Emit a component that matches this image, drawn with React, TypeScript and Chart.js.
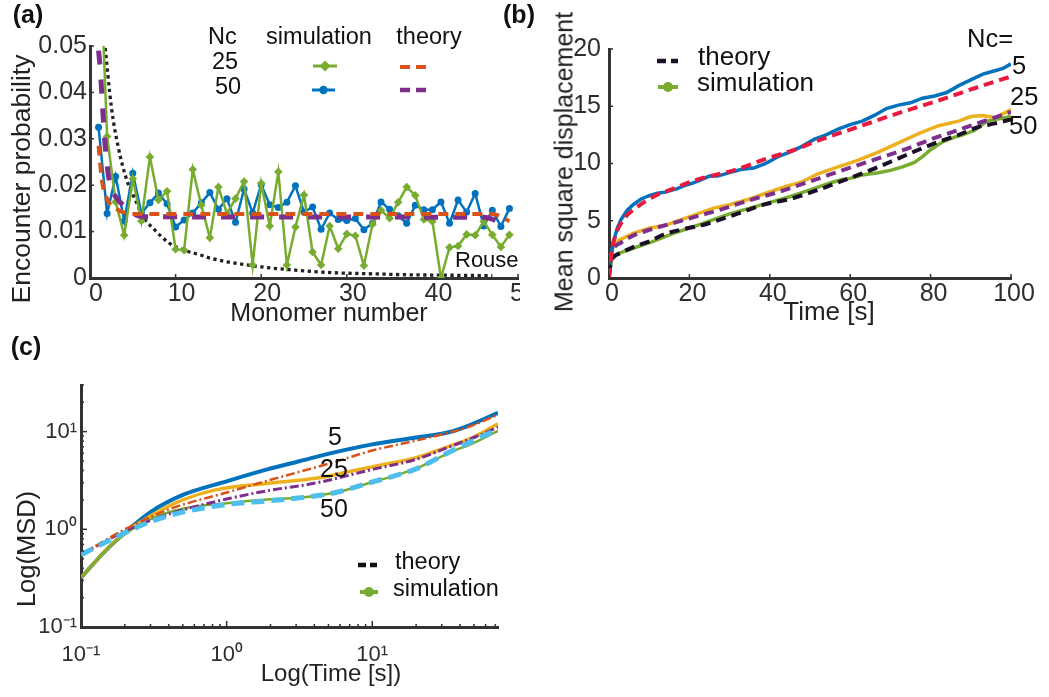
import React, { useEffect, useRef } from 'react';
import { Chart, registerables } from 'chart.js';
Chart.register(...registerables);

const FONT = "'Liberation Sans', Arial, Helvetica, sans-serif";
const AXIS = '#333333';
const TICK = '#2e2e2e';
const GREEN = '#77AC30';
const BLUE = '#0072BD';
const ORANGE = '#D95319';
const PURPLE = '#7E2F8E';
const YELLOW = '#EDB120';
const CYAN = '#4DBEEE';
const RED = '#E8193C';
const DARK = '#1c1028';

// ---------- Panel (a): encounter probability ----------
const monomerNumber = [1, 2, 3, 4, 5, 6, 7, 8, 9, 10, 11, 12, 13, 14, 15, 16, 17, 18, 19, 20, 21, 22, 23, 24, 25, 26, 27, 28, 29, 30, 31, 32, 33, 34, 35, 36, 37, 38, 39, 40, 41, 42, 43, 44, 45, 46, 47, 48, 49];
const simNc25 = [0.078, 0.0305, 0.0164, 0.0092, 0.0214, 0.0123, 0.0261, 0.0168, 0.0187, 0.0062, 0.006, 0.0234, 0.0157, 0.0087, 0.0196, 0.0139, 0.0171, 0.0208, 0.0028, 0.0204, 0.0112, 0.0229, 0.0028, 0.011, 0.0179, 0.0056, 0.0028, 0.0112, 0.0063, 0.0095, 0.0091, 0.0027, 0.0116, 0.0146, 0.0129, 0.0163, 0.0196, 0.0178, 0.0126, 0.0122, 0.0, 0.0066, 0.0069, 0.0094, 0.0092, 0.0122, 0.0093, 0.0067, 0.0093];
const simNc50 = [0.0325, 0.0139, 0.0219, 0.0123, 0.0226, 0.014, 0.0162, 0.0183, 0.016, 0.011, 0.0125, 0.014, 0.0162, 0.0184, 0.0148, 0.0171, 0.012, 0.0192, 0.014, 0.0201, 0.0158, 0.0152, 0.0163, 0.0199, 0.0142, 0.0153, 0.0105, 0.014, 0.0126, 0.0124, 0.0128, 0.0104, 0.0118, 0.0164, 0.0148, 0.0134, 0.0118, 0.0157, 0.0147, 0.0147, 0.0164, 0.0118, 0.0168, 0.0142, 0.0182, 0.0112, 0.0146, 0.0111, 0.015];
const theoryNc25X = [1, 1.4, 2, 3, 4, 5, 47, 48, 49];
const theoryNc25Y = [0.0285, 0.021, 0.017, 0.015, 0.0141, 0.0138, 0.0138, 0.0133, 0.0122];
const theoryNc50X = [1, 1.2, 1.4, 1.75, 2.3, 3, 4, 5, 6, 46, 47, 48];
const theoryNc50Y = [0.049, 0.045, 0.039, 0.029, 0.0205, 0.0175, 0.0155, 0.014, 0.0132, 0.0131, 0.0127, 0.0118];
const rouseX = [1.7, 2.5, 3.3, 4.3, 5.3, 6.2, 7.6, 9.2, 11, 13, 14, 16, 18, 20, 22, 24, 26, 29, 33, 37, 42, 47];
const rouseY = [0.051, 0.0368, 0.0282, 0.0211, 0.0168, 0.0132, 0.0103, 0.0076, 0.006, 0.0049, 0.0043, 0.0035, 0.0029, 0.0024, 0.002, 0.0017, 0.0014, 0.0011, 0.0009, 0.0007, 0.0006, 0.0005];
const probTicks = [0, 0.01, 0.02, 0.03, 0.04, 0.05];

// ---------- Panel (b): MSD linear ----------
const simNc5T = [0, 0.3, 1, 2, 3, 4.5, 6, 8, 10, 12, 14, 17, 19, 21, 23, 25, 27, 30, 33, 36, 39, 42, 45, 48, 51, 54, 57, 60, 63, 66, 69, 72, 75, 78, 81, 84, 87, 90, 93, 96, 98, 100];
const simNc5V = [0, 1.3, 3.0, 4.3, 5.1, 5.9, 6.4, 6.9, 7.2, 7.4, 7.5, 7.8, 8.1, 8.3, 8.6, 8.9, 8.9, 9.2, 9.5, 9.6, 10.0, 10.6, 11.0, 11.5, 12.1, 12.5, 13.0, 13.4, 13.7, 14.2, 14.8, 15.1, 15.3, 15.7, 15.9, 16.2, 16.8, 17.3, 17.8, 18.1, 18.3, 18.7];
const thNc5T = [0, 0.5, 1.5, 3.6, 7, 11, 16, 22, 31, 39, 47, 52, 62, 72, 82, 92, 100];
const thNc5V = [0, 2.0, 3.6, 5.1, 6.2, 7.1, 7.8, 8.6, 9.4, 10.4, 11.3, 12.0, 13.2, 14.4, 15.5, 16.7, 17.6];
const simNc25T = [0, 0.3, 1, 2.5, 6, 10, 14, 18, 22, 26, 30, 35, 39, 44, 48, 52, 57, 62, 67, 72, 77, 82, 87, 90, 93, 96, 100];
const simNc25V = [0, 1.6, 2.7, 3.3, 3.9, 4.35, 4.6, 5.1, 5.6, 6.1, 6.4, 6.9, 7.4, 8.0, 8.4, 9.1, 9.7, 10.3, 11.0, 11.8, 12.6, 13.3, 13.7, 14.1, 14.2, 14.0, 14.7];
const thNc25T = [0, 0.5, 1, 3, 6, 10, 17, 22, 28, 35, 42, 48, 53, 58, 64, 70, 75, 80, 85, 90, 95, 100];
const thNc25V = [0, 2.0, 2.5, 3.1, 3.7, 4.2, 4.9, 5.4, 6.0, 6.8, 7.5, 8.2, 8.8, 9.4, 10.1, 10.8, 11.4, 12.1, 12.7, 13.3, 13.9, 14.5];
const simNc50T = [0, 0.7, 2, 6, 11, 16, 22, 30, 39, 45, 50, 55, 58, 60, 63, 67, 70, 73, 76, 78, 80, 83, 86, 88, 91, 94, 97, 100];
const simNc50V = [0.3, 1.6, 2.1, 2.6, 3.2, 3.9, 4.6, 5.6, 6.5, 7.1, 7.7, 8.3, 8.6, 8.7, 9.0, 9.2, 9.4, 9.7, 10.1, 10.6, 11.2, 11.9, 12.3, 12.5, 12.9, 13.7, 13.9, 14.1];
const thNc50T = [0, 0.5, 1, 3, 6, 10, 14, 19, 23, 31, 39, 45, 52, 57, 62, 67, 72, 77, 82, 87, 92, 96, 100];
const thNc50V = [0.3, 1.5, 1.8, 2.2, 2.7, 3.2, 3.85, 4.3, 4.6, 5.5, 6.45, 6.9, 7.7, 8.35, 9.0, 9.7, 10.45, 11.2, 11.9, 12.5, 13.2, 13.5, 13.85];

// ---------- Panel (c): MSD log-log ----------
const logSim5T = [0.1, 0.15, 0.2, 0.3, 0.5, 1, 1.9, 3.2, 5.4, 10, 20, 34, 49, 73];
const logSim5V = [0.32, 0.62, 0.92, 1.5, 2.25, 3.1, 4.1, 5.0, 6.1, 7.4, 8.7, 9.9, 12.0, 15.6];
const logTh5T = [0.1, 0.2, 0.4, 1, 1.9, 5.4, 10, 20, 34, 49, 73];
const logTh5V = [0.55, 1.0, 1.6, 2.38, 3.14, 4.85, 6.4, 8.1, 9.8, 11.6, 14.9];
const logSim25T = [0.1, 0.15, 0.2, 0.3, 0.5, 0.85, 1.9, 4.2, 7, 12, 20, 34, 49, 73];
const logSim25V = [0.32, 0.62, 0.92, 1.37, 2.0, 2.55, 2.95, 3.35, 3.9, 4.6, 5.4, 7.1, 8.7, 12.0];
const logTh25T = [0.1, 0.2, 0.4, 1, 1.9, 4.2, 10, 20, 34, 49, 73];
const logTh25V = [0.55, 0.96, 1.43, 2.04, 2.48, 3.0, 4.1, 5.2, 7.0, 8.6, 11.1];
const logSim50T = [0.1, 0.15, 0.2, 0.3, 0.5, 1, 1.9, 3.2, 5.4, 7.4, 10, 14, 20, 34, 49, 73];
const logSim50V = [0.32, 0.62, 0.89, 1.27, 1.62, 1.85, 2.02, 2.1, 2.35, 2.65, 3.05, 3.5, 4.2, 6.1, 7.6, 10.2];
const logTh50T = [0.1, 0.2, 0.3, 0.5, 1, 1.9, 3.2, 5.4, 10, 14, 20, 34, 73];
const logTh50V = [0.55, 0.92, 1.2, 1.5, 1.8, 1.95, 2.1, 2.35, 3.05, 3.5, 4.15, 6.2, 10.6];

const xy = (xs: number[], ys: number[]) => xs.map((x, i) => ({ x, y: ys[i] }));

const SUP: Record<string, string> = { '-': '\u207B', '0': '\u2070', '1': '\u00B9', '2': '\u00B2' };
const powLabel = (v: number) => {
  const l = Math.log10(v);
  if (Math.abs(l - Math.round(l)) < 1e-6) {
    return '10' + String(Math.round(l)).split('').map((c) => SUP[c] || c).join('');
  }
  return '';
};

// plugin: inward tick marks + legend symbols
const axisDecor = {
  id: 'axisDecor',
  afterDraw(chart: any, _args: any, opts: any) {
    const { ctx, chartArea: ca } = chart;
    const xs = chart.scales.x;
    const ys = chart.scales.y;
    ctx.save();
    ctx.strokeStyle = AXIS;
    ctx.lineWidth = opts.tickWidth || 1.5;
    const nice = (v: number, log: boolean) => {
      if (!log) return true;
      const e = Math.floor(Math.log10(v) + 1e-9);
      const m = v / Math.pow(10, e);
      return Math.abs(m - Math.round(m)) < 1e-6;
    };
    const major = (v: number, log: boolean) => {
      if (!log) return true;
      const l = Math.log10(v);
      return Math.abs(l - Math.round(l)) < 1e-6;
    };
    for (const t of xs.ticks) {
      if (!nice(t.value, opts.log)) continue;
      const len = major(t.value, opts.log) ? opts.major : opts.minor;
      const p = xs.getPixelForValue(t.value);
      ctx.beginPath();
      ctx.moveTo(p, ca.bottom);
      ctx.lineTo(p, ca.bottom - len);
      ctx.stroke();
    }
    for (const t of ys.ticks) {
      if (!nice(t.value, opts.log)) continue;
      const len = major(t.value, opts.log) ? opts.major : opts.minor;
      const p = ys.getPixelForValue(t.value);
      ctx.beginPath();
      ctx.moveTo(ca.left, p);
      ctx.lineTo(ca.left + len, p);
      ctx.stroke();
    }
    for (const s of opts.symbols || []) {
      ctx.save();
      ctx.strokeStyle = s.color;
      ctx.fillStyle = s.color;
      ctx.lineWidth = s.width;
      ctx.setLineDash(s.dash || []);
      ctx.beginPath();
      ctx.moveTo(s.x1, s.y);
      ctx.lineTo(s.x2, s.y);
      ctx.stroke();
      ctx.setLineDash([]);
      const mx = (s.x1 + s.x2) / 2;
      if (s.marker === 'circle') {
        ctx.beginPath();
        ctx.arc(mx, s.y, s.r, 0, Math.PI * 2);
        ctx.fill();
      } else if (s.marker === 'diamond') {
        ctx.beginPath();
        ctx.moveTo(mx, s.y - s.r);
        ctx.lineTo(mx + s.r, s.y);
        ctx.lineTo(mx, s.y + s.r);
        ctx.lineTo(mx - s.r, s.y);
        ctx.closePath();
        ctx.fill();
      }
      ctx.restore();
    }
    ctx.restore();
  },
};

const tickFont = (size: number) => ({ family: FONT, size });
const hiddenGrid = { display: false, drawTicks: false, tickLength: 0 };
const border = { display: true, color: AXIS, width: 3 };

function configA(): any {
  return {
    type: 'line',
    data: {
      datasets: [
        { data: xy(theoryNc25X, theoryNc25Y), borderColor: ORANGE, borderWidth: 4, borderDash: [10, 7], pointRadius: 0, cubicInterpolationMode: 'monotone' },
        { data: xy(theoryNc50X, theoryNc50Y), borderColor: PURPLE, borderWidth: 5, borderDash: [14, 15], pointRadius: 0, cubicInterpolationMode: 'monotone' },
        { data: xy(monomerNumber, simNc25), borderColor: GREEN, backgroundColor: GREEN, borderWidth: 2.5, pointStyle: 'rectRot', pointRadius: 4.3, pointBorderWidth: 0 },
        { data: xy(monomerNumber, simNc50), borderColor: BLUE, backgroundColor: BLUE, borderWidth: 2.5, pointStyle: 'circle', pointRadius: 3.5, pointBorderWidth: 0 },
        { data: xy(rouseX, rouseY), borderColor: '#222222', borderWidth: 3.3, borderDash: [3.3, 3.5], pointRadius: 0, cubicInterpolationMode: 'monotone' },
      ],
    },
    options: {
      animation: false,
      responsive: false,
      devicePixelRatio: 1,
      events: [],
      layout: { padding: { left: 0, top: 46, right: 42, bottom: 0 } },
      plugins: {
        legend: { display: false },
        tooltip: { enabled: false },
        axisDecor: {
          major: 4, minor: 2, tickWidth: 1.5, log: false,
          symbols: [
            { x1: 313, x2: 337, y: 66, color: GREEN, width: 3, marker: 'diamond', r: 5.5 },
            { x1: 312, x2: 335, y: 90, color: BLUE, width: 3, marker: 'circle', r: 4.2 },
            { x1: 400, x2: 427, y: 67, color: ORANGE, width: 4, dash: [10, 6] },
            { x1: 400, x2: 427, y: 90, color: PURPLE, width: 4.5, dash: [10, 6] },
          ],
        },
      },
      scales: {
        x: {
          type: 'linear', min: 0, max: 50,
          grid: hiddenGrid, border,
          ticks: { stepSize: 10, font: tickFont(25), color: TICK, padding: 1, labelOffset: 6, maxRotation: 0, autoSkip: false },
          afterFit: (s: any) => { s.height = 52; },
        },
        y: {
          type: 'linear', min: 0, max: 0.05,
          grid: hiddenGrid, border,
          afterBuildTicks: (s: any) => { s.ticks = probTicks.map((v) => ({ value: v })); },
          ticks: { font: tickFont(25), color: TICK, padding: 3, autoSkip: false, callback: (v: any) => (Number(v) === 0 ? '0' : Number(v).toFixed(2)) },
          afterFit: (s: any) => { s.width = 90; },
        },
      },
    },
    plugins: [axisDecor],
  };
}

function configB(): any {
  return {
    type: 'line',
    data: {
      datasets: [
        { data: xy(thNc5T, thNc5V), borderColor: RED, borderWidth: 4, borderDash: [10, 6], pointRadius: 0, cubicInterpolationMode: 'monotone' },
        { data: xy(thNc25T, thNc25V), borderColor: PURPLE, borderWidth: 4, borderDash: [10, 6], pointRadius: 0, cubicInterpolationMode: 'monotone' },
        { data: xy(thNc50T, thNc50V), borderColor: DARK, borderWidth: 4, borderDash: [10, 6], pointRadius: 0, cubicInterpolationMode: 'monotone' },
        { data: xy(simNc5T, simNc5V), borderColor: BLUE, borderWidth: 3.5, pointRadius: 0 },
        { data: xy(simNc25T, simNc25V), borderColor: YELLOW, borderWidth: 3.5, pointRadius: 0 },
        { data: xy(simNc50T, simNc50V), borderColor: GREEN, borderWidth: 3.5, pointRadius: 0 },
      ],
    },
    options: {
      animation: false,
      responsive: false,
      devicePixelRatio: 1,
      events: [],
      layout: { padding: { left: 0, top: 49, right: 38, bottom: 0 } },
      plugins: {
        legend: { display: false },
        tooltip: { enabled: false },
        axisDecor: {
          major: 4, minor: 2, tickWidth: 1.5, log: false,
          symbols: [
            { x1: 137, x2: 158, y: 61, color: DARK, width: 4.5, dash: [9, 5] },
            { x1: 138, x2: 158, y: 87, color: GREEN, width: 4, marker: 'circle', r: 5 },
          ],
        },
      },
      scales: {
        x: {
          type: 'linear', min: 0, max: 100,
          grid: hiddenGrid, border,
          ticks: { stepSize: 20, font: tickFont(25), color: TICK, padding: 1, labelOffset: 3, maxRotation: 0, autoSkip: false },
          afterFit: (s: any) => { s.height = 52; },
        },
        y: {
          type: 'linear', min: 0, max: 20,
          grid: hiddenGrid, border,
          ticks: { stepSize: 5, font: tickFont(25), color: TICK, padding: 8, autoSkip: false },
          afterFit: (s: any) => { s.width = 89; },
        },
      },
    },
    plugins: [axisDecor],
  };
}

function configC(): any {
  return {
    type: 'line',
    data: {
      datasets: [
        { data: xy(logTh50T, logTh50V), borderColor: CYAN, borderWidth: 5, borderDash: [13, 7], pointRadius: 0, cubicInterpolationMode: 'monotone' },
        { data: xy(logTh5T, logTh5V), borderColor: ORANGE, borderWidth: 2.5, borderDash: [9, 3, 2, 3], pointRadius: 0, cubicInterpolationMode: 'monotone' },
        { data: xy(logTh25T, logTh25V), borderColor: PURPLE, borderWidth: 3, borderDash: [9, 3, 2, 3], pointRadius: 0, cubicInterpolationMode: 'monotone' },
        { data: xy(logSim50T, logSim50V), borderColor: GREEN, borderWidth: 2.5, pointRadius: 0, cubicInterpolationMode: 'monotone' },
        { data: xy(logSim25T, logSim25V), borderColor: YELLOW, borderWidth: 3.5, pointRadius: 0, cubicInterpolationMode: 'monotone' },
        { data: xy(logSim5T, logSim5V), borderColor: BLUE, borderWidth: 4, pointRadius: 0, cubicInterpolationMode: 'monotone' },
      ],
    },
    options: {
      animation: false,
      responsive: false,
      devicePixelRatio: 1,
      events: [],
      layout: { padding: { left: 0, top: 55, right: 102, bottom: 0 } },
      plugins: {
        legend: { display: false },
        tooltip: { enabled: false },
        axisDecor: {
          major: 6, minor: 3, tickWidth: 1.5, log: true,
          symbols: [
            { x1: 358, x2: 377, y: 235, color: '#111111', width: 4.5, dash: [8, 4] },
            { x1: 360, x2: 378, y: 262, color: GREEN, width: 4, marker: 'circle', r: 5 },
          ],
        },
      },
      scales: {
        x: {
          type: 'logarithmic', min: 0.1, max: 73,
          grid: hiddenGrid, border,
          ticks: { font: tickFont(22), color: TICK, padding: 15, maxRotation: 0, autoSkip: false, callback: (v: any) => powLabel(Number(v)) },
          afterFit: (s: any) => { s.height = 70; },
        },
        y: {
          type: 'logarithmic', min: 0.1, max: 30,
          grid: hiddenGrid, border,
          ticks: { font: tickFont(22), color: TICK, padding: 4, autoSkip: false, callback: (v: any) => powLabel(Number(v)) },
          afterFit: (s: any) => { s.width = 81; },
        },
      },
    },
    plugins: [axisDecor],
  };
}

function ChartCanvas({ make, left, top, w, h, bg }: { make: () => any; left: number; top: number; w: number; h: number; bg?: string }) {
  const ref = useRef<HTMLCanvasElement>(null);
  useEffect(() => {
    const c = new Chart(ref.current as HTMLCanvasElement, make());
    return () => c.destroy();
  }, []);
  return (
    <canvas
      ref={ref}
      width={w}
      height={h}
      style={{ position: 'absolute', left, top, width: w, height: h, background: bg || 'transparent' }}
    />
  );
}

// text anchored on its baseline
function T({ x, b, s, t, a = 'l', bold = false, color = '#111' }: { x: number; b: number; s: number; t: string; a?: 'l' | 'c' | 'r'; bold?: boolean; color?: string }) {
  const tx = a === 'c' ? 'translateX(-50%)' : a === 'r' ? 'translateX(-100%)' : 'none';
  return (
    <div
      style={{
        position: 'absolute', left: x, top: b - 0.8465 * s, fontSize: s, lineHeight: `${s}px`,
        fontFamily: FONT, fontWeight: bold ? 700 : 400, whiteSpace: 'nowrap', transform: tx, color,
      }}
    >
      {t}
    </div>
  );
}

// rotated (vertical) text centred on (cx, cy)
function R({ cx, cy, s, t }: { cx: number; cy: number; s: number; t: string }) {
  return (
    <div
      style={{
        position: 'absolute', left: cx, top: cy, fontSize: s, lineHeight: 1, fontFamily: FONT,
        whiteSpace: 'nowrap', transform: 'translate(-50%, -50%) rotate(-90deg)', color: '#222',
      }}
    >
      {t}
    </div>
  );
}

export default function App() {
  return (
    <div style={{ position: 'absolute', left: 0, top: 0, width: 1049, height: 697, background: '#fff', overflow: 'hidden' }}>
      <ChartCanvas make={configA} left={0} top={0} w={560} h={330} />
      <ChartCanvas make={configB} left={520} top={0} w={529} h={330} bg="#ffffff" />
      <ChartCanvas make={configC} left={0} top={330} w={600} h={367} />

      {/* Panel labels */}
      <T x={28} b={23} s={25} t="(a)" a="c" bold />
      <T x={519} b={23} s={25} t="(b)" a="c" bold />
      <T x={26} b={355} s={25} t="(c)" a="c" bold />

      {/* Panel (a) text */}
      <R cx={21} cy={179} s={26.5} t="Encounter probability" />
      <T x={329} b={321} s={25} t="Monomer number" a="c" color="#222" />
      <T x={208} b={45} s={23.5} t="Nc" />
      <T x={225} b={70} s={23.5} t="25" a="c" />
      <T x={228} b={95} s={23.5} t="50" a="c" />
      <T x={319} b={45} s={23.5} t="simulation" a="c" />
      <T x={429} b={45} s={23.5} t="theory" a="c" />
      <T x={455} b={268} s={22} t="Rouse" />

      {/* Panel (b) text */}
      <R cx={564} cy={162} s={25} t="Mean square displacement" />
      <T x={829} b={320} s={26} t="Time [s]" a="c" color="#222" />
      <T x={698} b={65} s={26} t="theory" />
      <T x={697} b={91} s={26} t="simulation" />
      <T x={967} b={48} s={25.5} t="Nc=" />
      <T x={1012} b={75} s={25.5} t="5" />
      <T x={1010} b={106} s={25.5} t="25" />
      <T x={1009} b={135} s={25.5} t="50" />

      {/* Panel (c) text */}
      <R cx={27} cy={549} s={25.5} t="Log(MSD)" />
      <T x={331} b={681} s={24} t="Log(Time [s])" a="c" color="#222" />
      <T x={335} b={445} s={25} t="5" a="c" />
      <T x={334} b={477} s={25} t="25" a="c" />
      <T x={334} b={517} s={25} t="50" a="c" />
      <T x={395} b={570} s={23.5} t="theory" />
      <T x={393} b={597} s={23.5} t="simulation" />
    </div>
  );
}
